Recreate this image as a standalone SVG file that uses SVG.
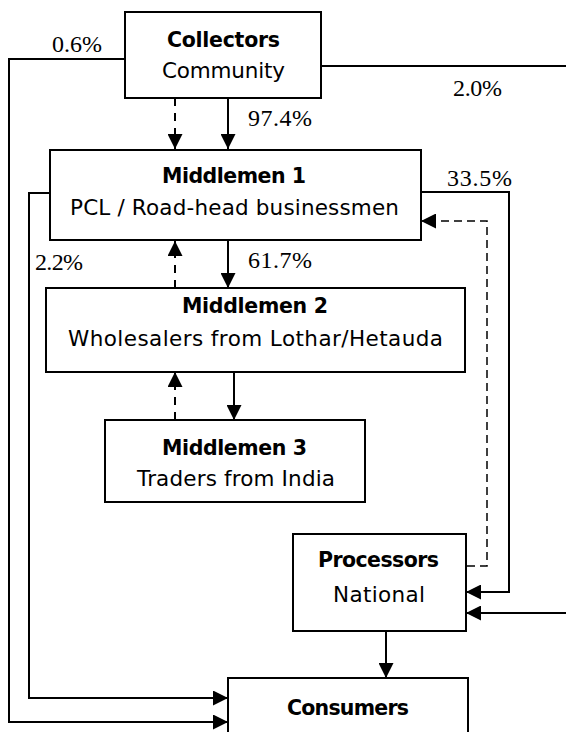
<svg xmlns="http://www.w3.org/2000/svg" width="566" height="732" viewBox="0 0 566 732">
<style>
.box{fill:#fff;stroke:#000;stroke-width:2}
.b{font-family:"DejaVu Sans",Verdana,sans-serif;font-weight:bold;font-size:20.5px;text-anchor:middle;fill:#000}
.r{font-family:"DejaVu Sans",Verdana,sans-serif;font-size:21.5px;text-anchor:middle;fill:#000}
.p{font-family:"Liberation Serif","Times New Roman",serif;font-size:24px;fill:#000}
.c{fill:none;stroke:#000;stroke-width:2}
.d{fill:none;stroke:#000;stroke-width:2;stroke-dasharray:8 7}
.dt{fill:none;stroke:#000;stroke-width:1.5;stroke-dasharray:8 5}
</style>
<defs>
<marker id="ah" viewBox="0 0 15 15" refX="15" refY="7.5" markerWidth="15" markerHeight="15" markerUnits="userSpaceOnUse" orient="auto">
<path d="M0,0 L15,7.5 L0,15 z" fill="#000"/>
</marker>
</defs>
<rect width="566" height="732" fill="#fff"/>
<g id="connectors">
<polyline class="c" points="125,59 9,59 9,722 228,722" marker-end="url(#ah)"/>
<polyline class="c" points="50,193 29,193 29,698 228,698" marker-end="url(#ah)"/>
<polyline class="c" points="321,66 566,66"/>
<polyline class="c" points="566,613 466,613" marker-end="url(#ah)"/>
<polyline class="c" points="421,192 509,192 509,592 466,592" marker-end="url(#ah)"/>
<polyline class="dt" points="467,566 487,566 487,221 421,221" marker-end="url(#ah)"/>
<line class="d" x1="175" y1="98" x2="175" y2="149" marker-end="url(#ah)"/>
<line class="c" x1="228" y1="98" x2="228" y2="149" marker-end="url(#ah)"/>
<line class="d" x1="175" y1="288" x2="175" y2="241" marker-end="url(#ah)"/>
<line class="c" x1="228" y1="241" x2="228" y2="288" marker-end="url(#ah)"/>
<line class="d" x1="175" y1="420" x2="175" y2="372" marker-end="url(#ah)"/>
<line class="c" x1="234" y1="372" x2="234" y2="420" marker-end="url(#ah)"/>
<line class="c" x1="386" y1="631" x2="386" y2="678" marker-end="url(#ah)"/>
<text class="p" x="52" y="52" textLength="50">0.6%</text>
<text class="p" x="453" y="96" textLength="49">2.0%</text>
<text class="p" x="248" y="126" textLength="64">97.4%</text>
<text class="p" x="447" y="186" textLength="65">33.5%</text>
<text class="p" x="35" y="270" textLength="48">2.2%</text>
<text class="p" x="248" y="268" textLength="64">61.7%</text>
</g>
<g id="collectors">
<rect class="box" x="125" y="12" width="196" height="86"/>
<text class="b" x="223.5" y="47" textLength="113">Collectors</text>
<text class="r" x="223.5" y="78" textLength="123">Community</text>
</g>
<g id="middlemen1">
<rect class="box" x="50" y="150" width="371" height="90"/>
<text class="b" x="234" y="183" textLength="144">Middlemen 1</text>
<text class="r" x="234.5" y="215" textLength="329">PCL / Road-head businessmen</text>
</g>
<g id="middlemen2">
<rect class="box" x="46" y="288" width="419" height="84"/>
<text class="b" x="255" y="313" textLength="146">Middlemen 2</text>
<text class="r" x="255.5" y="346" textLength="375">Wholesalers from Lothar/Hetauda</text>
</g>
<g id="middlemen3">
<rect class="box" x="105" y="420" width="260" height="82"/>
<text class="b" x="234.5" y="455" textLength="145">Middlemen 3</text>
<text class="r" x="236" y="486" textLength="198">Traders from India</text>
</g>
<g id="processors">
<rect class="box" x="293" y="534" width="173" height="97"/>
<text class="b" x="378.5" y="567" textLength="121">Processors</text>
<text class="r" x="379" y="602" textLength="92">National</text>
</g>
<g id="consumers">
<rect class="box" x="228" y="678" width="240" height="70"/>
<text class="b" x="348" y="715" textLength="122">Consumers</text>
</g>
</svg>
